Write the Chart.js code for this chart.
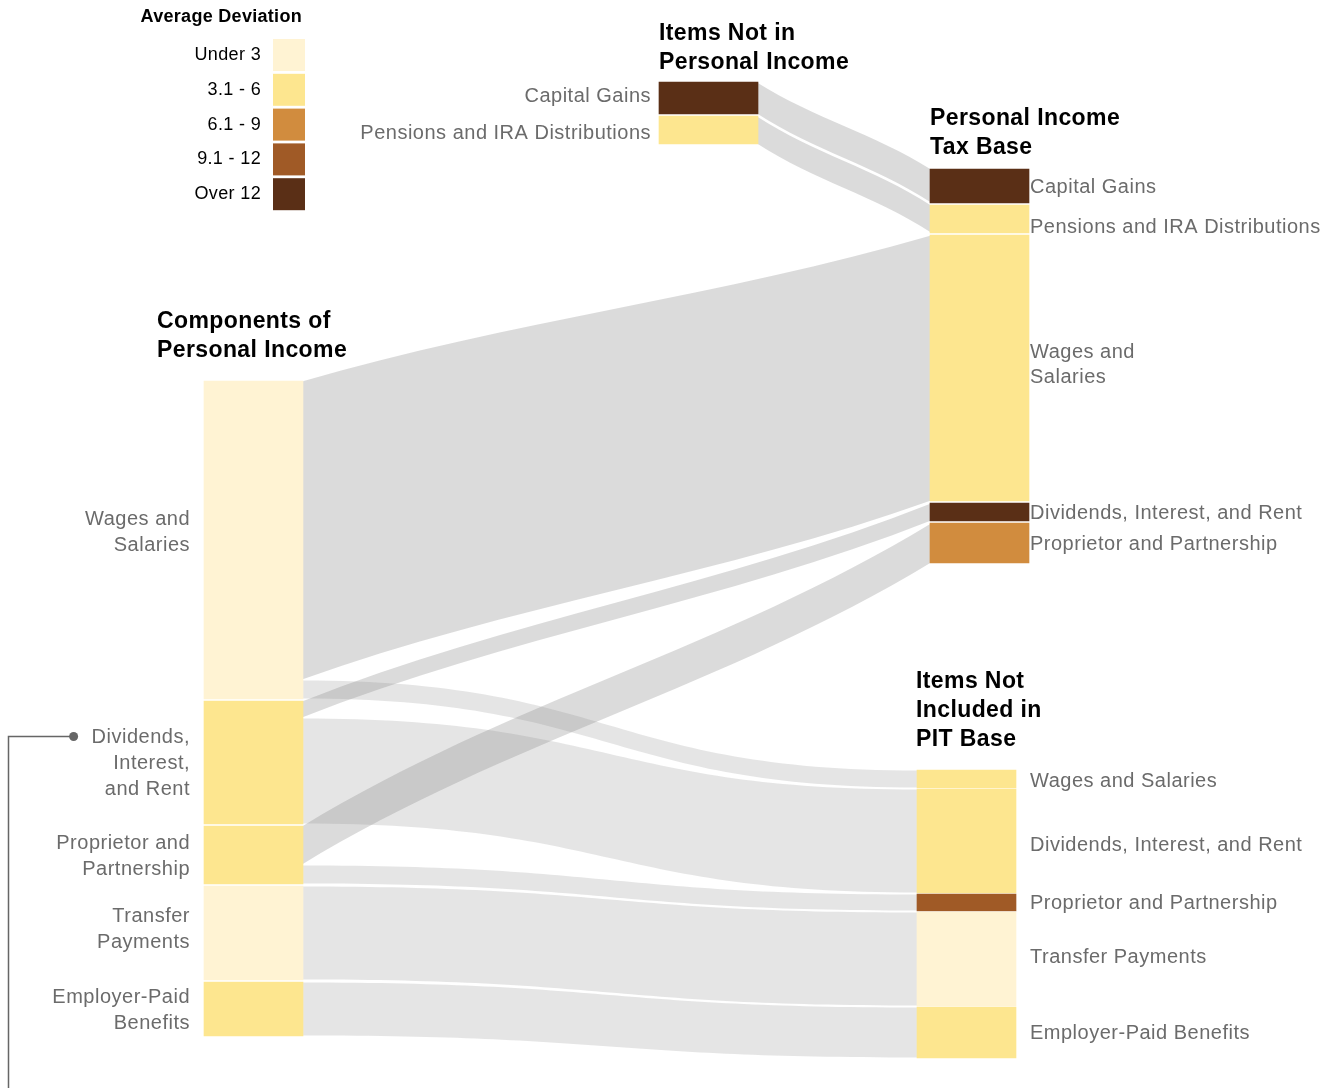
<!DOCTYPE html>
<html>
<head>
<meta charset="utf-8">
<script src="https://cdn.jsdelivr.net/npm/chart.js@4.4.1/dist/chart.umd.min.js"></script>
<style>
  html, body { margin: 0; padding: 0; background: #fff; }
  #wrap { position: relative; width: 1336px; height: 1088px; }
</style>
</head>
<body>
<div id="wrap"><canvas id="sankey"></canvas></div>
<script>
// legend bins (average deviation)
const binLabels = ['Under 3', '3.1 - 6', '6.1 - 9', '9.1 - 12', 'Over 12'];
const binColors = ['#fff3d3', '#fde68f', '#d18c3e', '#a05a26', '#5a2f16'];

const columnTitles = [
  ['Components of', 'Personal Income'],
  ['Items Not in', 'Personal Income'],
  ['Personal Income', 'Tax Base'],
  ['Items Not', 'Included in', 'PIT Base'],
];

// nodes
const nodeNames = [
  'Wages and\nSalaries', 'Dividends,\nInterest,\nand Rent', 'Proprietor and\nPartnership', 'Transfer\nPayments', 'Employer-Paid\nBenefits',
  'Capital Gains', 'Pensions and IRA Distributions',
  'Capital Gains', 'Pensions and IRA Distributions', 'Wages and\nSalaries', 'Dividends, Interest, and Rent', 'Proprietor and Partnership',
  'Wages and Salaries', 'Dividends, Interest, and Rent', 'Proprietor and Partnership', 'Transfer Payments', 'Employer-Paid Benefits',
];
const nodeColumns = [0, 0, 0, 0, 0, 1, 1, 2, 2, 2, 2, 2, 3, 3, 3, 3, 3];
const nodeValues = [318, 123, 58, 94, 54, 32, 28, 34, 28, 266, 18, 40, 18, 104, 17, 94, 51];
const nodeBins = [0, 1, 1, 0, 1, 4, 1, 4, 1, 1, 4, 2, 1, 1, 3, 0, 1];

// flows
const flowSources = [0, 0, 1, 1, 2, 2, 3, 4, 5, 6];
const flowTargets = [9, 12, 10, 13, 11, 14, 15, 16, 7, 8];
const flowValues = [299, 19, 17, 106, 39, 19, 94, 54, 32, 28];

// layout (in scale units, 1 unit = 1 px)
const layout = {
  width: 1336,
  height: 1088,
  nodeWidth: 99,
  colLeft: [204, 659, 930, 917],
  colTop: [381, 82, 169, 770],
  colGap: [2, 2, 2, 1],
  labelSide: ['left', 'left', 'right', 'right'],
  labelPad: [14, 8, 1, 14],
  labelNudge: { 0: -9, 3: -5, 5: -3, 6: 2, 8: 7, 9: -4, 12: 1, 13: 3, 15: -3 },
  lineHeight: [26, 25, 25, 25],
  titleX: [157, 659, 930, 916],
  titleGap: [30, 19, 21, 30],
  // bend of the ribbons, by target column: [control x share, control y share]
  bend: { 2: [1 / 3, 0.42], 3: [0.5, 0] },
};

// stack nodes in their columns
const nodes = nodeNames.map((name, i) => ({
  name, col: nodeColumns[i], value: nodeValues[i], bin: nodeBins[i],
}));
const cursor = layout.colTop.slice();
nodes.forEach(n => {
  n.x0 = layout.colLeft[n.col];
  n.x1 = n.x0 + layout.nodeWidth;
  n.y0 = cursor[n.col];
  n.y1 = n.y0 + n.value;
  cursor[n.col] = n.y1 + layout.colGap[n.col];
});

// flow bands: share of each node's height
const flows = flowValues.map((v, i) => ({ s: flowSources[i], t: flowTargets[i], value: v }));
const outSum = {}, inSum = {};
flows.forEach(f => {
  outSum[f.s] = (outSum[f.s] || 0) + f.value;
  inSum[f.t] = (inSum[f.t] || 0) + f.value;
});
const outCursor = nodes.map(n => n.y0);
const inCursor = nodes.map(n => n.y0);
flows.slice().sort((a, b) => nodes[a.t].y0 - nodes[b.t].y0).forEach(f => {
  const src = nodes[f.s], tgt = nodes[f.t];
  const sh = f.value * src.value / outSum[f.s];
  const th = f.value * tgt.value / inSum[f.t];
  f.s0 = outCursor[f.s]; f.s1 = f.s0 + sh; outCursor[f.s] = f.s1;
  f.t0 = inCursor[f.t]; f.t1 = f.t0 + th; inCursor[f.t] = f.t1;
});
flows.sort((a, b) => nodes[b.t].col - nodes[a.t].col);

const flowPlugin = {
  id: 'flows',
  beforeDatasetsDraw(chart) {
    const { ctx, scales: { x, y } } = chart;
    ctx.save();
    flows.forEach(f => {
      const src = nodes[f.s], tgt = nodes[f.t];
      const [a, b] = layout.bend[tgt.col];
      const xs = x.getPixelForValue(src.x1) - 1;
      const xt = x.getPixelForValue(tgt.x0) + 1;
      const dx = xt - xs;
      const s0 = y.getPixelForValue(f.s0) + 0.5, s1 = y.getPixelForValue(f.s1) - 0.5;
      const t0 = y.getPixelForValue(f.t0) + 0.5, t1 = y.getPixelForValue(f.t1) - 0.5;
      ctx.beginPath();
      ctx.moveTo(xs, s0);
      ctx.bezierCurveTo(xs + dx * a, s0 + (t0 - s0) * b, xt - dx * a, t0 - (t0 - s0) * b, xt, t0);
      ctx.lineTo(xt, t1);
      ctx.bezierCurveTo(xt - dx * a, t1 - (t1 - s1) * b, xs + dx * a, s1 + (t1 - s1) * b, xs, s1);
      ctx.closePath();
      ctx.fillStyle = tgt.col === 2 ? 'rgba(140,140,140,0.31)' : 'rgba(160,160,160,0.28)';
      ctx.fill();
    });
    ctx.restore();
  },
};

const FONT = '"Liberation Sans", Arial, sans-serif';

const textPlugin = {
  id: 'texts',
  afterDatasetsDraw(chart) {
    const { ctx, scales: { x, y } } = chart;
    ctx.save();
    ctx.textBaseline = 'middle';

    // node labels
    ctx.font = '20px ' + FONT;
    ctx.letterSpacing = '0.5px';
    ctx.fillStyle = '#6b6b6b';
    nodes.forEach((n, i) => {
      const lines = n.name.split('\n');
      const side = layout.labelSide[n.col];
      const pad = layout.labelPad[n.col];
      const lh = layout.lineHeight[n.col];
      const lx = side === 'left' ? x.getPixelForValue(n.x0) - pad : x.getPixelForValue(n.x1) + pad;
      const cy = y.getPixelForValue((n.y0 + n.y1) / 2) + (layout.labelNudge[i] || 0);
      const top = cy - (lines.length - 1) * lh / 2;
      ctx.textAlign = side === 'left' ? 'right' : 'left';
      lines.forEach((ln, k) => ctx.fillText(ln, lx, top + k * lh + 1));
      n.labelX = lx; n.labelTop = top;
      n.firstWidth = ctx.measureText(lines[0]).width;
    });

    // column titles
    ctx.font = 'bold 23px ' + FONT;
    ctx.letterSpacing = '0.4px';
    ctx.fillStyle = '#000';
    ctx.textAlign = 'left';
    columnTitles.forEach((lines, c) => {
      const bottom = y.getPixelForValue(layout.colTop[c] - layout.titleGap[c]);
      lines.forEach((ln, k) => {
        ctx.fillText(ln, x.getPixelForValue(layout.titleX[c]), bottom - (lines.length - 1 - k) * 29);
      });
    });

    // legend
    ctx.font = 'bold 18px ' + FONT;
    ctx.letterSpacing = '0.3px';
    ctx.textAlign = 'right';
    ctx.fillText('Average Deviation', 302, 17);
    ctx.font = '18px ' + FONT;
    ctx.letterSpacing = '0.35px';
    binLabels.forEach((lb, i) => {
      const by = 39 + i * 34.8;
      ctx.fillStyle = binColors[i];
      ctx.fillRect(273, by, 32, 32);
      ctx.fillStyle = '#000';
      ctx.fillText(lb, 261, by + 16);
    });

    // pointer to the dividends label
    const d = nodes[1];
    const dotX = d.labelX - d.firstWidth - 18;
    const dotY = d.labelTop;
    ctx.strokeStyle = '#666';
    ctx.lineWidth = 1.5;
    ctx.beginPath();
    ctx.moveTo(8.5, chart.height);
    ctx.lineTo(8.5, dotY);
    ctx.lineTo(dotX, dotY);
    ctx.stroke();
    ctx.fillStyle = '#666';
    ctx.beginPath();
    ctx.arc(dotX, dotY, 4.5, 0, Math.PI * 2);
    ctx.fill();

    ctx.restore();
  },
};

new Chart(document.getElementById('sankey'), {
  type: 'bar',
  data: {
    datasets: [{
      data: nodes.map(n => ({ x: (n.x0 + n.x1) / 2, y: [n.y0, n.y1] })),
      backgroundColor: nodes.map(n => binColors[n.bin]),
      borderWidth: 0,
      barThickness: layout.nodeWidth,
    }],
  },
  options: {
    responsive: true,
    maintainAspectRatio: false,
    animation: false,
    events: [],
    layout: { padding: 0 },
    plugins: { legend: { display: false }, tooltip: { enabled: false } },
    scales: {
      x: { type: 'linear', min: 0, max: layout.width, offset: false, display: false },
      y: { type: 'linear', min: 0, max: layout.height, reverse: true, display: false },
    },
  },
  plugins: [flowPlugin, textPlugin],
});
</script>
</body>
</html>
